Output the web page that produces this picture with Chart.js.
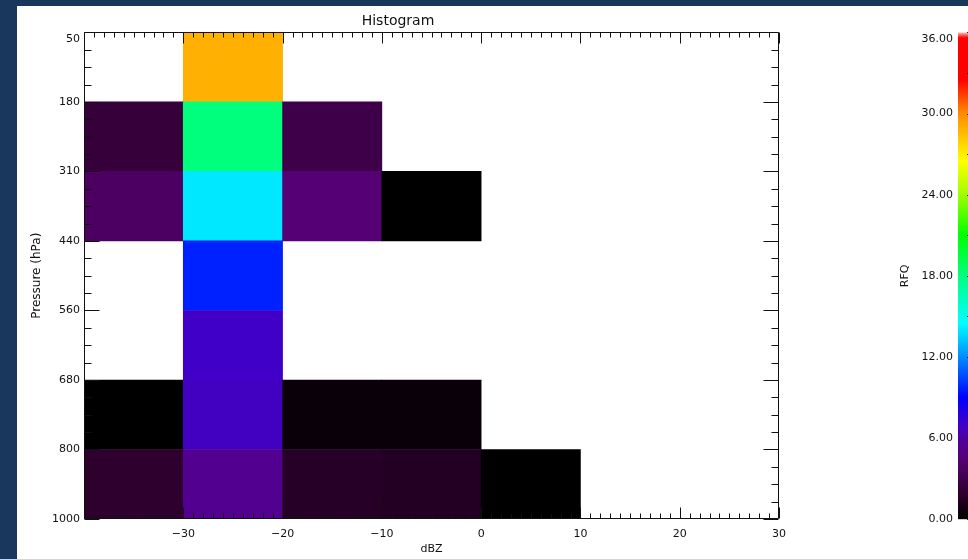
<!DOCTYPE html>
<html>
<head>
<meta charset="utf-8">
<script src="https://cdn.jsdelivr.net/npm/chart.js@4"></script>
<style>
  html, body { margin: 0; padding: 0; width: 968px; height: 559px; overflow: hidden; background: #19375d; }
  #panel { position: absolute; left: 17px; top: 6px; width: 951px; height: 553px; background: #fff; }
  #main { position: absolute; left: 17px; top: 6px; }
  #cbar { position: absolute; left: 880px; top: 6px; }
</style>
</head>
<body>
<div id="panel"></div>
<canvas id="main" width="813" height="553"></canvas>
<canvas id="cbar" width="100" height="553"></canvas>
<script>
// bins / labels
const dbzCenters = [-35, -25, -15, -5, 5, 15, 25];
const pressureTicks = ['50', '180', '310', '440', '560', '680', '800', '1000'];

// RFQ per pressure layer (one entry per dBZ bin, null = empty)
const rfq_50_180   = [null, 28.9, null, null, null, null, null];
const rfq_180_310  = [2.4, 18.1, 2.9, null, null, null, null];
const rfq_310_440  = [3.8, 14.0, 4.5, 0.05, null, null, null];
const rfq_440_560  = [null, 9.7, null, null, null, null, null];
const rfq_560_680  = [null, 7.0, null, null, null, null, null];
const rfq_680_800  = [0.05, 6.8, 0.4, 0.4, null, null, null];
const rfq_800_1000 = [1.9, 5.5, 1.6, 1.45, 0.05, null, null];
const rfqRows = [rfq_50_180, rfq_180_310, rfq_310_440, rfq_440_560, rfq_560_680, rfq_680_800, rfq_800_1000];

// colour table (rainbow + white style)
const cmapValues = [0, 2, 4.5, 5.5, 7, 9, 12, 14.5, 18, 21, 24, 26.5, 30, 32.5, 35.6, 36];
const cmapColors = [[0,0,0],[48,0,48],[86,0,117],[82,0,144],[64,0,200],[0,0,255],[0,140,255],[0,255,255],
                    [0,255,128],[0,255,0],[160,255,0],[255,255,0],[255,140,0],[255,0,0],[255,0,0],[250,190,190]];
const cbMin = 0, cbMax = 36;

function colorFor(v) {
    if (v <= cmapValues[0]) return 'rgb(' + cmapColors[0].join(',') + ')';
    for (let i = 1; i < cmapValues.length; i++) {
        if (v <= cmapValues[i]) {
            const f = (v - cmapValues[i - 1]) / (cmapValues[i] - cmapValues[i - 1]);
            const a = cmapColors[i - 1], b = cmapColors[i];
            const c = a.map((ch, k) => Math.round(ch + (b[k] - ch) * f));
            return 'rgb(' + c.join(',') + ')';
        }
    }
    return 'rgb(' + cmapColors[cmapColors.length - 1].join(',') + ')';
}

Chart.defaults.font.family = "'DejaVu Sans', sans-serif";
Chart.defaults.font.size = 11;
Chart.defaults.color = '#111';

// build cells
const cells = [];
rfqRows.forEach((row, r) => {
    row.forEach((v, c) => {
        if (v !== null) cells.push({ x: dbzCenters[c], y: [r, r + 1], v: v });
    });
});

// IDL-like inward ticks + frame
const inwardTicks = {
    id: 'inwardTicks',
    afterDatasetsDraw(chart) {
        const { ctx, chartArea: a, scales: { x, y } } = chart;
        const L = Math.round(a.left) + 0.5, R = Math.round(a.right) - 0.5;
        const T = Math.round(a.top) + 0.5, B = Math.round(a.bottom) - 0.5;
        ctx.save();
        ctx.strokeStyle = '#111';
        ctx.lineWidth = 1;
        ctx.beginPath();
        for (let v = x.min; v <= x.max; v++) {
            const px = Math.round(x.getPixelForValue(v)) + 0.5;
            const len = v % 10 === 0 ? 11 : 5;
            ctx.moveTo(px, B); ctx.lineTo(px, B - len);
            ctx.moveTo(px, T); ctx.lineTo(px, T + len);
        }
        for (let k = 0; k <= 28; k++) {
            const v = k / 4;
            const py = Math.round(y.getPixelForValue(v)) + 0.5;
            const len = k % 4 === 0 ? 15 : 7;
            ctx.moveTo(L, py); ctx.lineTo(L + len, py);
            ctx.moveTo(R, py); ctx.lineTo(R - len, py);
        }
        ctx.rect(L, T, R - L, B - T);
        ctx.stroke();
        ctx.restore();
    }
};

new Chart(document.getElementById('main'), {
    type: 'bar',
    data: {
        datasets: [{
            data: cells,
            backgroundColor: (c) => c.raw ? colorFor(c.raw.v) : '#fff',
            borderWidth: 0,
            barPercentage: 1,
            categoryPercentage: 1,
            grouped: false
        }]
    },
    options: {
        responsive: false,
        animation: false,
        layout: { padding: { left: 0, right: 51, top: 0, bottom: 0 } },
        plugins: {
            legend: { display: false },
            tooltip: { enabled: false },
            title: {
                display: true,
                text: 'Histogram',
                font: { size: 14, weight: 'normal' },
                color: '#111',
                padding: { top: 7, bottom: 2.6 }
            }
        },
        scales: {
            x: {
                type: 'linear',
                min: -40, max: 30,
                offset: false,
                grid: { display: false, drawTicks: false, offset: false },
                border: { display: false },
                ticks: {
                    stepSize: 10,
                    padding: 9,
                    maxRotation: 0,
                    callback: (v) => v === -40 ? '' : (v < 0 ? '\u2212' + Math.abs(v) : String(v))
                },
                title: { display: true, text: 'dBZ', font: { size: 11 }, padding: { top: 0, bottom: 3 } },
                afterFit: (s) => { s.height = 40; }
            },
            y: {
                type: 'linear',
                min: 0, max: 7,
                reverse: true,
                grid: { display: false, drawTicks: false },
                border: { display: false },
                ticks: {
                    stepSize: 1,
                    padding: 4,
                    // top label sits just inside the frame, as in the original plot
                    callback: (v) => v === 0 ? ['', pressureTicks[v]] : pressureTicks[v]
                },
                title: { display: true, text: 'Pressure (hPa)', font: { size: 12 }, padding: { top: 13, bottom: 0 } },
                afterFit: (s) => { s.width = 67; }
            }
        }
    },
    plugins: [inwardTicks]
});

// colour bar
const cbarTicks = {
    id: 'cbarTicks',
    afterDatasetsDraw(chart) {
        const { ctx, chartArea: a, scales: { y } } = chart;
        ctx.save();
        ctx.strokeStyle = '#222';
        ctx.beginPath();
        for (let v = cbMin; v <= cbMax; v += 3) {
            const py = Math.round(y.getPixelForValue(v)) + 0.5;
            ctx.moveTo(a.right, py); ctx.lineTo(a.right - 13, py);
        }
        ctx.stroke();
        ctx.restore();
    }
};

new Chart(document.getElementById('cbar'), {
    type: 'bar',
    data: {
        labels: ['RFQ'],
        datasets: [{
            data: [[cbMin, cbMax]],
            borderWidth: 0,
            barPercentage: 1,
            categoryPercentage: 1,
            backgroundColor: (c) => {
                const y = c.chart.scales.y;
                if (!y || !c.chart.chartArea) return '#000';
                const g = c.chart.ctx.createLinearGradient(0, y.getPixelForValue(cbMin), 0, y.getPixelForValue(cbMax));
                cmapValues.forEach((v, i) => g.addColorStop((v - cbMin) / (cbMax - cbMin), 'rgb(' + cmapColors[i].join(',') + ')'));
                return g;
            }
        }]
    },
    options: {
        responsive: false,
        animation: false,
        layout: { padding: { left: 0, right: 0, top: 26.4, bottom: 39.7 } },
        plugins: { legend: { display: false }, tooltip: { enabled: false } },
        scales: {
            x: { display: false, offset: true },
            y: {
                min: cbMin, max: cbMax,
                grid: { display: false, drawTicks: false },
                border: { display: false },
                ticks: { stepSize: 6, padding: 5, callback: (v) => v === cbMax ? ['', v.toFixed(2)] : v.toFixed(2) },
                title: { display: true, text: 'RFQ', font: { size: 11 }, padding: { top: 19, bottom: 0 } },
                afterFit: (s) => { s.width = 78; }
            }
        }
    },
    plugins: [cbarTicks]
});
</script>
</body>
</html>
